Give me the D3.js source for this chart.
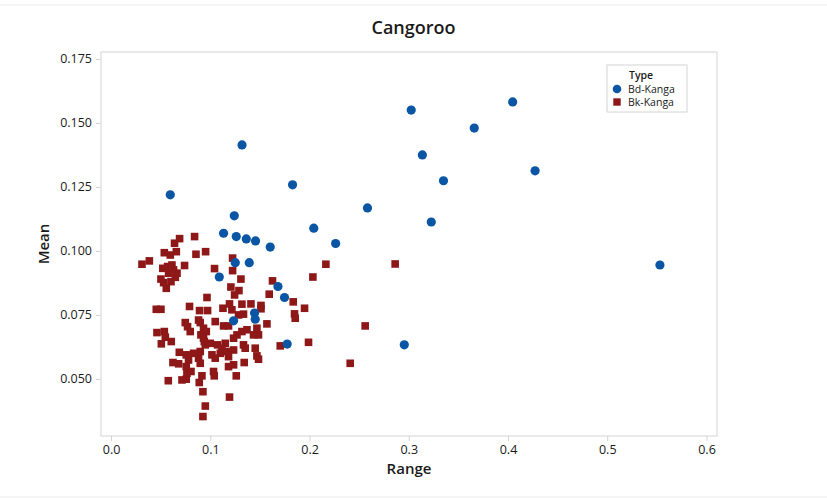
<!DOCTYPE html>
<html>
<head>
<meta charset="utf-8">
<script src="https://cdn.jsdelivr.net/npm/d3@7"></script>
<style>
  html, body { margin: 0; padding: 0; background: #fff; }
  svg { display: block; font-family: "Open Sans", "Noto Sans", sans-serif; }
</style>
</head>
<body>
<div id="chart"></div>
<script>
/* data: [Range, Mean] */
const seriesNames = ["Bd-Kanga", "Bk-Kanga"];

const bdKanga = [
  [0.0597, 0.1219], [0.1320, 0.1414], [0.3025, 0.1550], [0.4047, 0.1582],
  [0.3660, 0.1480], [0.3137, 0.1375], [0.3350, 0.1274], [0.4273, 0.1313],
  [0.3227, 0.1113], [0.2584, 0.1168], [0.1829, 0.1258], [0.1242, 0.1137],
  [0.2043, 0.1089], [0.2263, 0.1029], [0.5531, 0.0945], [0.2955, 0.0633],
  [0.1775, 0.0636], [0.1134, 0.1069], [0.1262, 0.1056], [0.1363, 0.1047],
  [0.1456, 0.1039], [0.1604, 0.1015], [0.1252, 0.0954], [0.1393, 0.0954],
  [0.1091, 0.0898], [0.1682, 0.0861], [0.1748, 0.0818], [0.1446, 0.0757],
  [0.1453, 0.0733], [0.1235, 0.0727]
];

const bkKanga = [
  [0.0312, 0.0948], [0.0386, 0.0961], [0.0537, 0.0993], [0.0597, 0.0984],
  [0.0658, 0.0997], [0.0640, 0.1030], [0.0691, 0.1048], [0.0842, 0.1056],
  [0.0856, 0.0987], [0.0953, 0.0997], [0.0741, 0.0943], [0.1043, 0.0931],
  [0.0522, 0.0932], [0.0570, 0.0939], [0.0614, 0.0945], [0.0630, 0.0926],
  [0.0580, 0.0913], [0.0503, 0.0890], [0.0530, 0.0876], [0.0557, 0.0854],
  [0.0604, 0.0880], [0.0648, 0.0897], [0.0665, 0.0913], [0.0456, 0.0772],
  [0.0503, 0.0772], [0.0791, 0.0783], [0.0967, 0.0818], [0.0892, 0.0767],
  [0.0973, 0.0767], [0.1128, 0.0776], [0.1225, 0.0972], [0.1225, 0.0923],
  [0.1309, 0.0890], [0.1208, 0.0859], [0.1289, 0.0845], [0.1245, 0.0828],
  [0.1627, 0.0883], [0.1594, 0.0831], [0.1836, 0.0801], [0.1849, 0.0754],
  [0.1856, 0.0737], [0.1571, 0.0715], [0.1410, 0.0793], [0.1319, 0.0792],
  [0.1511, 0.0787], [0.1511, 0.0774], [0.1194, 0.0793], [0.1218, 0.0770],
  [0.1285, 0.0750], [0.1335, 0.0753], [0.2165, 0.0948], [0.2034, 0.0898],
  [0.1950, 0.0776], [0.2561, 0.0707], [0.1050, 0.0724], [0.0463, 0.0681],
  [0.0537, 0.0685], [0.0547, 0.0663], [0.0507, 0.0637], [0.0607, 0.0646],
  [0.0748, 0.0720], [0.0771, 0.0704], [0.0798, 0.0685], [0.0899, 0.0720],
  [0.0932, 0.0698], [0.0960, 0.0685], [0.1134, 0.0707], [0.1184, 0.0707],
  [0.0906, 0.0672], [0.0940, 0.0646], [0.0899, 0.0607], [0.0882, 0.0581],
  [0.0899, 0.0561], [0.0688, 0.0604], [0.0758, 0.0594], [0.0781, 0.0574],
  [0.0624, 0.0564], [0.0681, 0.0559], [0.0758, 0.0548], [0.0806, 0.0529],
  [0.0715, 0.0496], [0.0758, 0.0499], [0.0577, 0.0493], [0.0916, 0.0512],
  [0.0889, 0.0486], [0.0926, 0.0450], [0.0950, 0.0394], [0.0926, 0.0353],
  [0.1194, 0.0429], [0.1033, 0.0529], [0.1040, 0.0512], [0.1073, 0.0633],
  [0.1118, 0.0620], [0.1151, 0.0639], [0.1101, 0.0600], [0.1168, 0.0607],
  [0.1017, 0.0594], [0.1050, 0.0581], [0.1184, 0.0587], [0.1235, 0.0613],
  [0.1184, 0.0548], [0.1235, 0.0555], [0.1262, 0.0512], [0.1342, 0.0564],
  [0.1335, 0.0633], [0.1352, 0.0620], [0.1453, 0.0620], [0.1470, 0.0590],
  [0.1486, 0.0577], [0.1705, 0.0629], [0.1269, 0.0672], [0.1319, 0.0685],
  [0.1370, 0.0692], [0.1470, 0.0698], [0.1486, 0.0672], [0.1436, 0.0672],
  [0.1000, 0.0639], [0.0765, 0.0522], [0.0832, 0.0600], [0.0932, 0.0659],
  [0.0950, 0.0633], [0.1990, 0.0643], [0.2410, 0.0561], [0.2863, 0.0949],
  [0.1235, 0.0659], [0.0882, 0.0730]
];

const xTicks = [0.0, 0.1, 0.2, 0.3, 0.4, 0.5, 0.6];
const yTicks = [0.050, 0.075, 0.100, 0.125, 0.150, 0.175];

/* ───────── layout ───────── */
const W = 827, H = 498;
const frame = { left: 101, right: 717, top: 52, bottom: 436 };
const BLUE = "#0a56a5", RED = "#8e1818", GRID = "#d4d4d4", INK = "#1a1a1a";

const svg = d3.select("#chart").append("svg")
  .attr("width", W).attr("height", H);

// faint outer border of the graph window
svg.append("rect")
  .attr("x", -2).attr("y", 5).attr("width", W + 4).attr("height", 492)
  .attr("fill", "none").attr("stroke", "#ececec");

const x = d3.scaleLinear().domain([-0.0101, 0.6106]).range([frame.left, frame.right]);
const y = d3.scaleLinear().domain([0.0277, 0.1777]).range([frame.bottom, frame.top]);

svg.append("rect")
  .attr("x", frame.left).attr("y", frame.top)
  .attr("width", frame.right - frame.left).attr("height", frame.bottom - frame.top)
  .attr("fill", "none").attr("stroke", GRID);

const xAxis = svg.append("g")
  .attr("transform", `translate(0,${frame.bottom})`)
  .call(d3.axisBottom(x).tickValues(xTicks).tickSize(5).tickPadding(4)
    .tickFormat(d3.format(".1f")));
xAxis.select(".domain").remove();
xAxis.selectAll(".tick line").attr("stroke", GRID);
xAxis.selectAll("text").attr("fill", INK).attr("font-size", "12.5px")
  .attr("font-family", "'Open Sans', sans-serif");

const yAxis = svg.append("g")
  .attr("transform", `translate(${frame.left},0)`)
  .call(d3.axisLeft(y).tickValues(yTicks).tickSize(5).tickPadding(4)
    .tickFormat(d3.format(".3f")));
yAxis.select(".domain").remove();
yAxis.selectAll(".tick line").attr("stroke", GRID);
yAxis.selectAll("text").attr("fill", INK).attr("font-size", "12.5px")
  .attr("font-family", "'Open Sans', sans-serif");

// titles
svg.append("text").attr("x", W / 2).attr("y", 34)
  .attr("text-anchor", "middle").attr("font-size", "18px").attr("font-weight", 600)
  .attr("fill", INK).text("Cangoroo");

svg.append("text").attr("x", (frame.left + frame.right) / 2).attr("y", 474)
  .attr("text-anchor", "middle").attr("font-size", "15px").attr("font-weight", 600)
  .attr("fill", INK).text("Range");

svg.append("text")
  .attr("transform", `translate(49,${(frame.top + frame.bottom) / 2}) rotate(-90)`)
  .attr("text-anchor", "middle").attr("font-size", "15px").attr("font-weight", 600)
  .attr("fill", INK).text("Mean");

// points
const plot = svg.append("g");

plot.selectAll(".bk").data(bkKanga).join("rect")
  .attr("class", "bk")
  .attr("x", d => x(d[0]) - 3.8).attr("y", d => y(d[1]) - 3.8)
  .attr("width", 7.6).attr("height", 7.6)
  .attr("fill", RED);

plot.selectAll(".bd").data(bdKanga).join("circle")
  .attr("class", "bd")
  .attr("cx", d => x(d[0])).attr("cy", d => y(d[1]))
  .attr("r", 4.6)
  .attr("fill", BLUE);

// legend
const lg = svg.append("g").attr("transform", "translate(607,65)");
lg.append("rect").attr("width", 80).attr("height", 47)
  .attr("fill", "#fff").attr("stroke", GRID);
lg.append("text").attr("x", 22).attr("y", 14)
  .attr("font-size", "10.5px").attr("font-weight", 600).attr("fill", INK).text("Type");
seriesNames.forEach((name, i) => {
  const cy = 24 + i * 13;
  if (i === 0) {
    lg.append("circle").attr("cx", 10).attr("cy", cy).attr("r", 4.3).attr("fill", BLUE);
  } else {
    lg.append("rect").attr("x", 6.3).attr("y", cy - 3.7).attr("width", 7.4).attr("height", 7.4)
      .attr("fill", RED);
  }
  lg.append("text").attr("x", 21).attr("y", cy + 4)
    .attr("font-size", "10.5px").attr("fill", INK).text(name);
});
</script>
</body>
</html>
